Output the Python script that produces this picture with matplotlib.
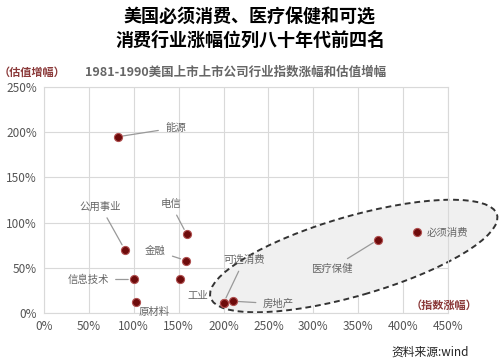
import matplotlib
matplotlib.use('Agg')
import matplotlib.pyplot as plt
from matplotlib.patches import Ellipse
from matplotlib.ticker import FuncFormatter

plt.rcParams['font.family'] = ['Noto Sans CJK SC', 'DejaVu Sans']

# industry index gain (x, %) and valuation gain (y, %), 1981-1990
industries = ['能源', '公用事业', '电信', '金融', '', '信息技术', '原材料',
              '工业', '可选消费', '房地产', '医疗保健', '必须消费']
index_gain = [82, 90, 159, 158, 151, 100, 103, 200, 200, 210, 372, 415]
val_gain = [195, 70, 87, 58, 37, 37, 12, 11, 11, 13, 81, 90]
# label placement (data coords)
label_pos = {'能源': (135, 205, 'left'), '公用事业': (63, 118, 'center'),
             '电信': (141, 121, 'center'), '金融': (124, 69, 'center'),
             '信息技术': (49, 37, 'center'), '原材料': (123, 1, 'center'),
             '工业': (171, 19, 'center'), '可选消费': (223, 59, 'center'),
             '房地产': (261, 10, 'center'), '医疗保健': (320, 49, 'center'),
             '必须消费': (449, 89, 'center')}
no_line = ['工业', '必须消费']

fig = plt.figure(figsize=(5, 3.63), dpi=100)
ax = fig.add_axes([0.088, 0.138, 0.808, 0.622])

ax.set_xlim(0, 450)
ax.set_ylim(0, 250)
ax.set_xticks(range(0, 451, 50))
ax.set_yticks(range(0, 251, 50))
pct = FuncFormatter(lambda v, p: f'{int(v)}%')
ax.xaxis.set_major_formatter(pct)
ax.yaxis.set_major_formatter(pct)
ax.tick_params(length=0, labelsize=8.5, colors='#555555', pad=5)
ax.grid(True, color='#d9d9d9', lw=0.8)
ax.set_axisbelow(True)
for s in ax.spines.values():
    s.set_color('#d9d9d9')
    s.set_linewidth(0.8)

# dashed ellipse around the consumer / healthcare group
ell = Ellipse((345, 63), 332, 88, angle=16, facecolor='#f0f0f0', edgecolor='#333333',
              ls=(0, (3, 2)), lw=1.4, clip_on=False, zorder=1)
ax.add_patch(ell)

ax.scatter(index_gain, val_gain, s=34, color='#6e0b0b', edgecolor='#b05050',
           linewidth=0.8, zorder=4, clip_on=False)

for name, x, y in zip(industries, index_gain, val_gain):
    if name == '':
        continue
    tx, ty, ha = label_pos[name]
    if name in no_line:
        ax.text(tx, ty, name, fontsize=7.5, color='#666666', ha=ha, va='center')
    else:
        ax.annotate(name, xy=(x, y), xytext=(tx, ty), fontsize=7.5, color='#666666',
                    ha=ha, va='center', annotation_clip=False,
                    arrowprops=dict(arrowstyle='-', color='#999999', lw=0.9,
                                    shrinkA=3, shrinkB=4))

ax.text(445, 8, '（指数涨幅）', fontsize=8, color='#8b3a3a', fontweight='bold',
        ha='center', va='center')

fig.text(0.5, 0.953, '美国必须消费、医疗保健和可选', fontsize=13, fontweight='bold',
         ha='center', va='center')
fig.text(0.5, 0.89, '消费行业涨幅位列八十年代前四名', fontsize=13, fontweight='bold',
         ha='center', va='center')
fig.text(0.065, 0.802, '（估值增幅）', fontsize=8, color='#8b3a3a', fontweight='bold',
         ha='center', va='center')
fig.text(0.17, 0.802, '1981-1990美国上市上市公司行业指数涨幅和估值增幅', fontsize=9,
         color='#666666', fontweight='bold', ha='left', va='center')
fig.text(0.86, 0.03, '资料来源:wind', fontsize=8.5, color='#222222', ha='center', va='center')

fig.savefig('out.png', dpi=100)
